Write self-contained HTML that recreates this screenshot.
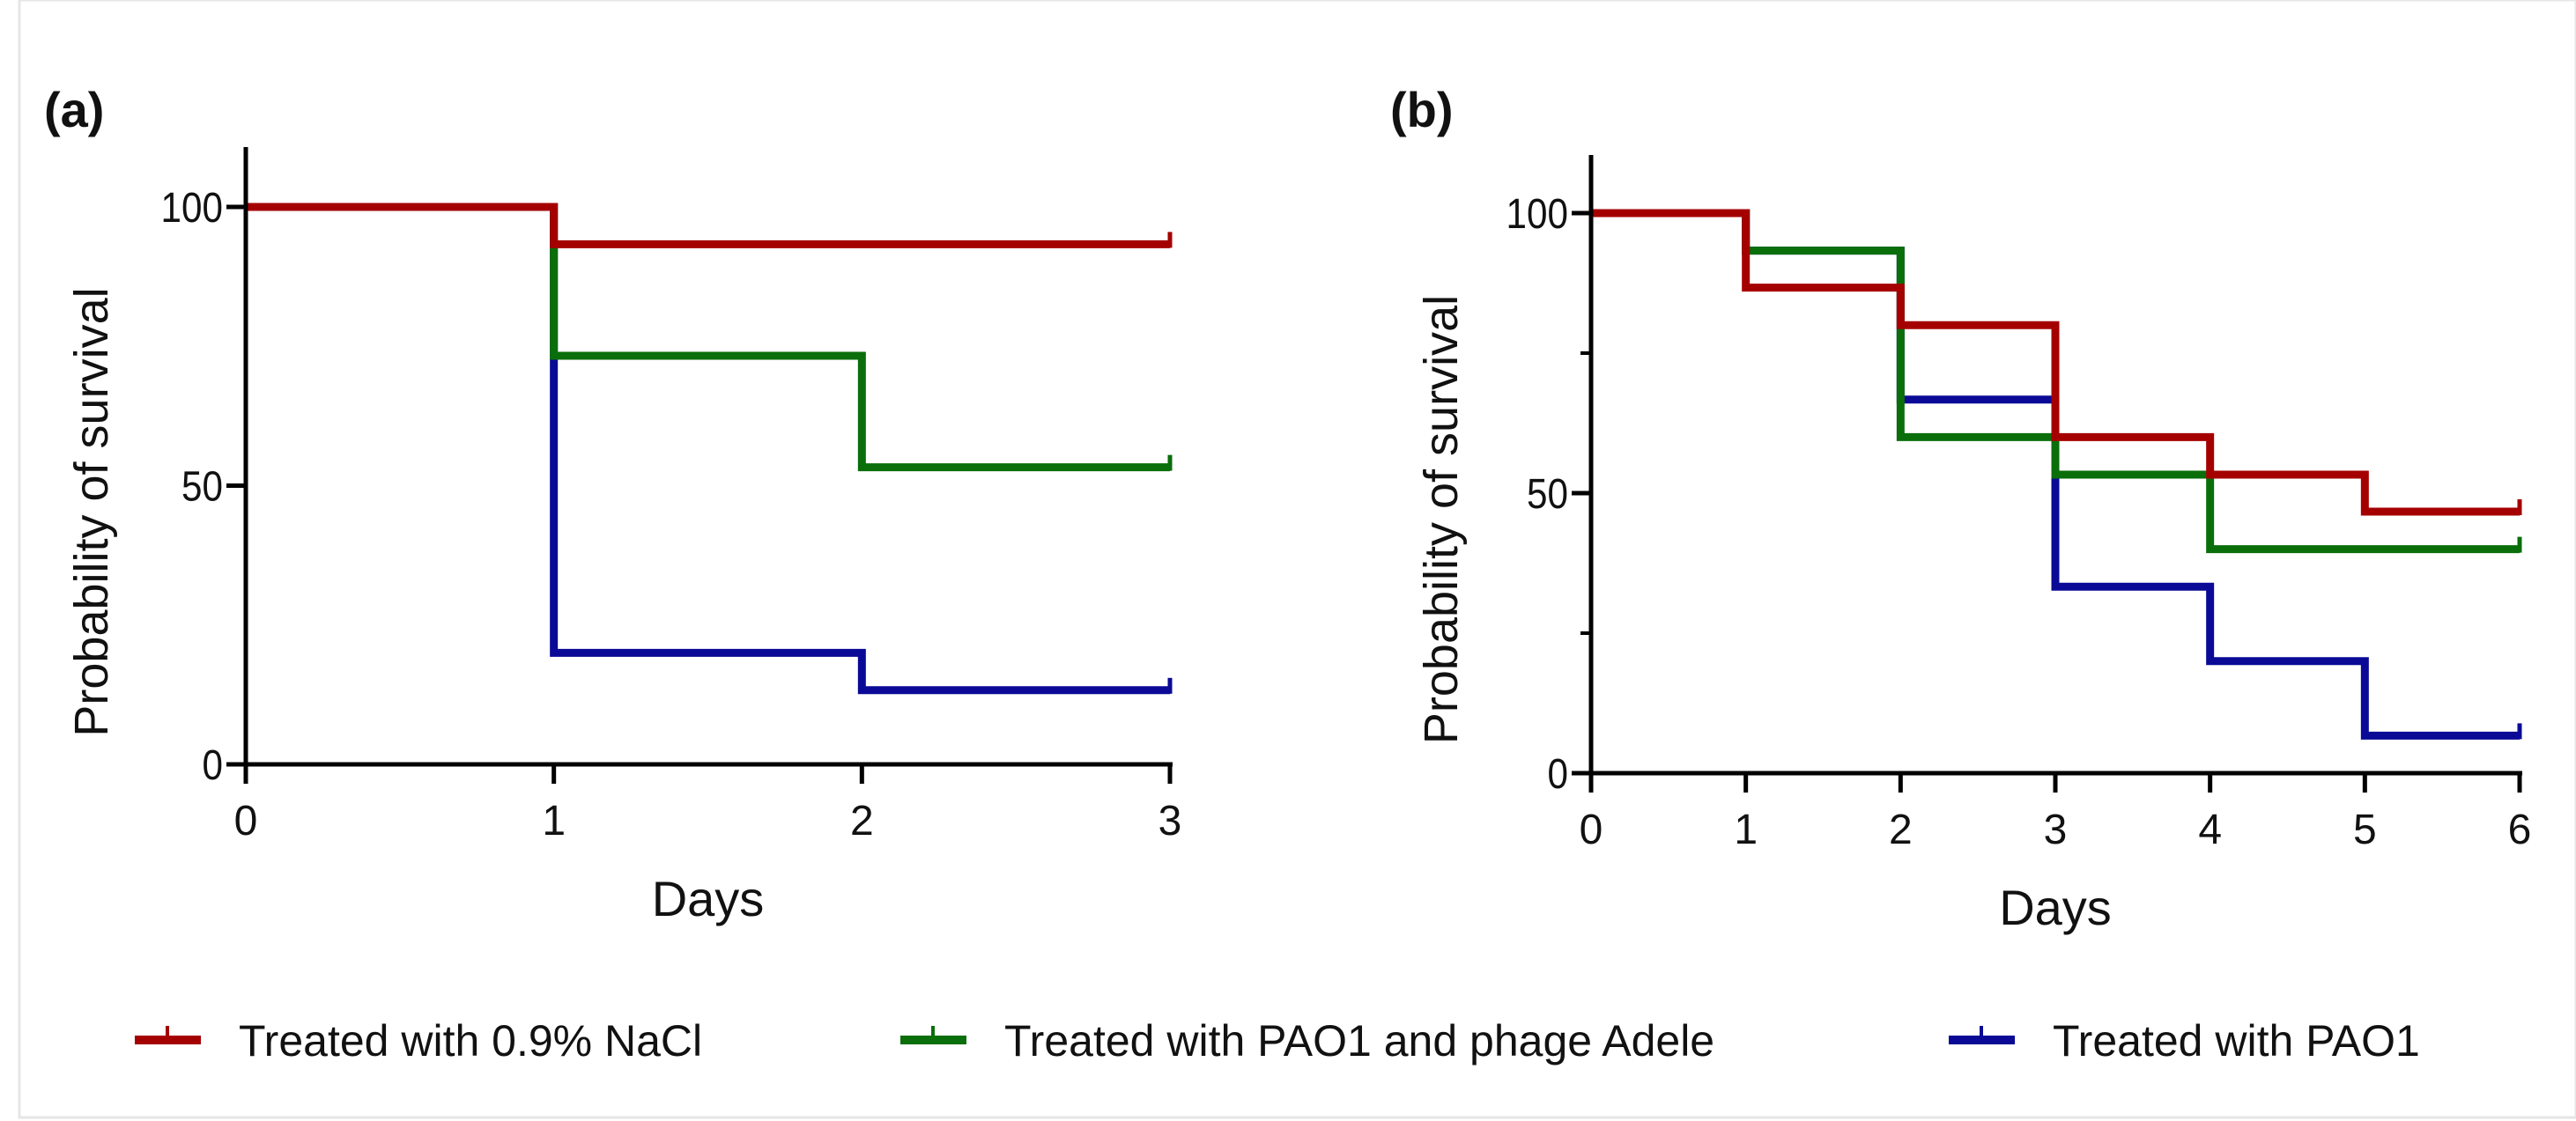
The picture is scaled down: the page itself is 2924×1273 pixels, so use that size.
<!DOCTYPE html>
<html><head><meta charset="utf-8"><style>
html,body{margin:0;padding:0;background:#fff}
svg{display:block}
text{font-family:"Liberation Sans",sans-serif;fill:#111}
</style></head><body>
<svg id="fig" width="2924" height="1273" viewBox="0 0 2924 1273">
<rect x="22" y="0" width="2902" height="1269" fill="#fff" stroke="#e6e6e6" stroke-width="3"/>
<g id="pa"></g>
<g id="pb"></g>
<g id="legend"></g>
</svg>
<script>
const colors = ["#a50000","#0a6e0a","#0a0a96"];
const seriesNames = ["Treated with 0.9% NaCl","Treated with PAO1 and phage Adele","Treated with PAO1"];
const daysA = [0,1,2,3];
const naclA = [100,93.3,93.3,93.3];
const phageA = [100,73.3,53.3,53.3];
const pao1A = [100,20,13.3,13.3];
const daysB = [0,1,2,3,4,5,6];
const naclB = [100,86.7,80,60,53.3,46.7,46.7];
const phageB = [100,93.3,60,53.3,40,40,40];
const pao1B = [100,93.3,66.7,33.3,20,6.7,6.7];
const yTicks = [0,50,100];
const NS="http://www.w3.org/2000/svg";
function mk(tag,attrs,parent){const e=document.createElementNS(NS,tag);for(const k in attrs)e.setAttribute(k,attrs[k]);parent.appendChild(e);return e;}

function panel(g,cfg){
  const sx=d=>cfg.x0+(d-cfg.days[0])/(cfg.days[cfg.days.length-1]-cfg.days[0])*(cfg.x1-cfg.x0);
  const sy=v=>cfg.y0+(v/100)*(cfg.y100-cfg.y0);
  let t=mk('text',{x:cfg.lx,y:cfg.ly,'font-size':56,'font-weight':'bold'},g);t.textContent=cfg.label;
  
  
  const sets=[cfg.pao1,cfg.phage,cfg.nacl];const cols=[colors[2],colors[1],colors[0]];
  sets.forEach((vals,i)=>{
    let d=`M${sx(cfg.days[0])},${sy(vals[0])}`;
    for(let k=1;k<cfg.days.length;k++){d+=` H${sx(cfg.days[k])} V${sy(vals[k])}`;}
    const p=mk('path',{d:d,fill:'none',stroke:cols[i],'stroke-width':9,'stroke-linejoin':'miter'},g);
    
    
    const last=vals[vals.length-1];const xe=sx(cfg.days[cfg.days.length-1]);
    const c=mk('line',{x1:xe,x2:xe,y1:sy(last)+4,y2:sy(last)-14,stroke:cols[i],'stroke-width':5},g);
    
    
  });
  const ya=mk('line',{x1:cfg.x0,x2:cfg.x0,y1:cfg.ytop,y2:cfg.y0+22,stroke:'#000','stroke-width':5},g);
  
  
  const xa=mk('line',{x1:cfg.x0-22,x2:cfg.x1+3,y1:cfg.y0,y2:cfg.y0,stroke:'#000','stroke-width':5},g);
  
  
  yTicks.forEach(v=>{
    const l=mk('line',{x1:cfg.x0-22,x2:cfg.x0,y1:sy(v),y2:sy(v),stroke:'#000','stroke-width':5},g);
    
    
    const tt=mk('text',{x:cfg.x0-26,y:sy(v)+17,'font-size':48,'text-anchor':'end',transform:`translate(${cfg.x0-26},0) scale(0.88,1) translate(${-(cfg.x0-26)},0)`},g);
    tt.textContent=v;
    
    
  });
  if(cfg.minor){[25,75].forEach(v=>{
    const l=mk('line',{x1:cfg.x0-12,x2:cfg.x0,y1:sy(v),y2:sy(v),stroke:'#000','stroke-width':4},g);
    
    
  });}
  cfg.days.forEach(d=>{
    const l=mk('line',{x1:sx(d),x2:sx(d),y1:cfg.y0,y2:cfg.y0+22,stroke:'#000','stroke-width':5},g);
    
    
    const tt=mk('text',{x:sx(d),y:cfg.y0+80,'font-size':48,'text-anchor':'middle'},g);
    tt.textContent=d;
    
    
  });
  const xt=mk('text',{x:(cfg.x0+cfg.x1)/2,y:cfg.y0+172,'font-size':56,'text-anchor':'middle'},g);
  xt.textContent='Days';
  
  
  const ytl=mk('text',{x:0,y:0,'font-size':54,'text-anchor':'middle',transform:`translate(${cfg.ytx},${(cfg.y0+cfg.y100)/2+30}) rotate(-90)`},g);
  ytl.textContent='Probability of survival';
  
  
}
panel(document.getElementById('pa'),{label:'(a)',lx:50,ly:144,x0:279,x1:1328,y0:868,y100:235,ytop:167,days:daysA,nacl:naclA,phage:phageA,pao1:pao1A,ytx:122,minor:false});
panel(document.getElementById('pb'),{label:'(b)',lx:1578,ly:144,x0:1806,x1:2860,y0:878,y100:242,ytop:176,days:daysB,nacl:naclB,phage:phageB,pao1:pao1B,ytx:1654,minor:true});

const lg=document.getElementById('legend');
const legX=[153,1022,2212];
seriesNames.forEach((n,i)=>{
  const s=mk('line',{x1:legX[i],x2:legX[i]+75,y1:1181,y2:1181,stroke:colors[i],'stroke-width':10},lg);
  
  
  const tk=mk('line',{x1:legX[i]+37,x2:legX[i]+37,y1:1181,y2:1165,stroke:colors[i],'stroke-width':4},lg);
  
  
  const t=mk('text',{x:legX[i]+118,y:1199,'font-size':50},lg);
  t.textContent=n;
  
  
});
</script>
</body></html>
